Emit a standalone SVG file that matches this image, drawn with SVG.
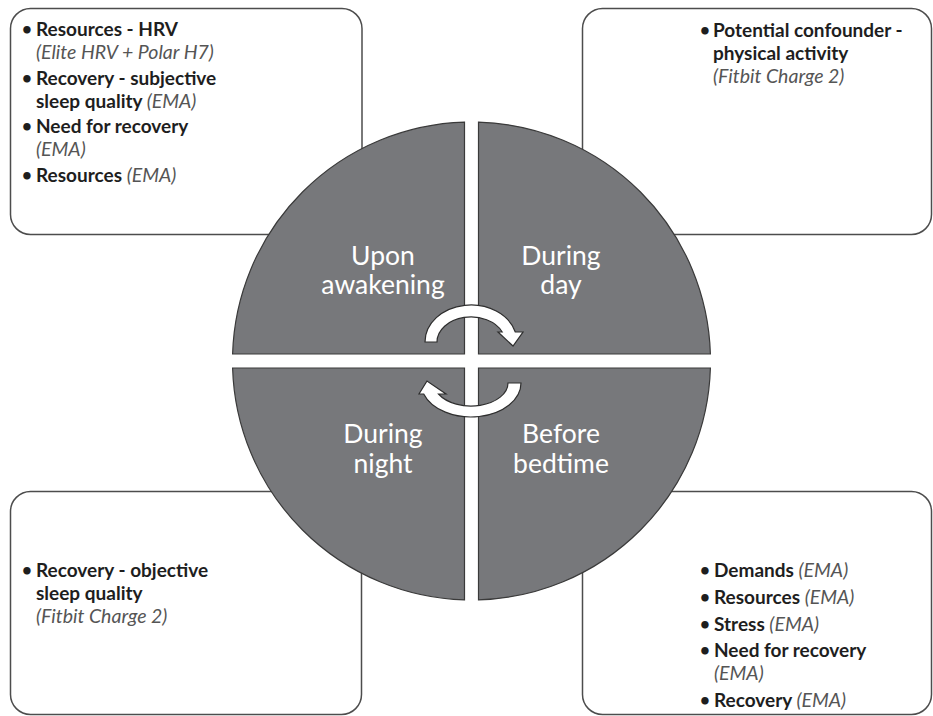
<svg xmlns="http://www.w3.org/2000/svg" width="933" height="716" viewBox="0 0 933 716">
<style>
.box{fill:#fff;stroke:#4d4d4d;stroke-width:1.5}
.q{fill:#77787b;stroke:#3a3a3a;stroke-width:1.2}
.arr{fill:#fff;stroke:#2e2e2e;stroke-width:1.2;stroke-linejoin:miter}
.t{font-family:Lato,"Liberation Sans",sans-serif;font-size:19px;font-weight:bold;fill:#1e1e1e}
.i{font-style:italic;font-weight:normal;fill:#555;font-size:19.5px}
.bu{font-size:17px}
.lbl{font-family:Lato,"Liberation Sans",sans-serif;font-size:26.5px;fill:#fff;text-anchor:middle}
</style>
<rect width="933" height="716" fill="#fff"/>
<g id="box-upon-awakening">
<rect class="box" x="10.5" y="8.5" width="351.5" height="226" rx="20"/>
<text class="t" y="36"><tspan class="bu" x="22" dy="-1">•</tspan><tspan x="36" dy="1">Resources - HRV</tspan></text>
<text class="t i" x="36" y="59">(Elite HRV + Polar H7)</text>
<text class="t" y="85"><tspan class="bu" x="22" dy="-1">•</tspan><tspan x="36" dy="1">Recovery - subjective</tspan></text>
<text class="t" x="36" y="108">sleep quality <tspan class="i">(EMA)</tspan></text>
<text class="t" y="133"><tspan class="bu" x="22" dy="-1">•</tspan><tspan x="36" dy="1">Need for recovery</tspan></text>
<text class="t i" x="36" y="156">(EMA)</text>
<text class="t" y="182"><tspan class="bu" x="22" dy="-1">•</tspan><tspan x="36" dy="1">Resources <tspan class="i">(EMA)</tspan></tspan></text>
</g>
<g id="box-during-day">
<rect class="box" x="582.5" y="8.5" width="349" height="226" rx="20"/>
<text class="t" y="37"><tspan class="bu" x="700" dy="-1">•</tspan><tspan x="713" dy="1">Potential confounder -</tspan></text>
<text class="t" x="713" y="60">physical activity</text>
<text class="t i" x="713" y="83">(Fitbit Charge 2)</text>
</g>
<g id="box-during-night">
<rect class="box" x="10.5" y="491.5" width="351" height="223" rx="20"/>
<text class="t" y="577"><tspan class="bu" x="22" dy="-1">•</tspan><tspan x="36" dy="1">Recovery - objective</tspan></text>
<text class="t" x="36" y="600">sleep quality</text>
<text class="t i" x="36" y="623">(Fitbit Charge 2)</text>
</g>
<g id="box-before-bedtime">
<rect class="box" x="582.5" y="491.5" width="349" height="223" rx="20"/>
<text class="t" y="577"><tspan class="bu" x="700" dy="-1">•</tspan><tspan x="714" dy="1">Demands <tspan class="i">(EMA)</tspan></tspan></text>
<text class="t" y="604"><tspan class="bu" x="700" dy="-1">•</tspan><tspan x="714" dy="1">Resources <tspan class="i">(EMA)</tspan></tspan></text>
<text class="t" y="631"><tspan class="bu" x="700" dy="-1">•</tspan><tspan x="714" dy="1">Stress <tspan class="i">(EMA)</tspan></tspan></text>
<text class="t" y="657"><tspan class="bu" x="700" dy="-1">•</tspan><tspan x="714" dy="1">Need for recovery</tspan></text>
<text class="t i" x="714" y="680">(EMA)</text>
<text class="t" y="707"><tspan class="bu" x="700" dy="-1">•</tspan><tspan x="714" dy="1">Recovery <tspan class="i">(EMA)</tspan></tspan></text>
</g>
<g id="q-upon-awakening">
<path class="q" d="M464.5 354 L232.6 354 A239 239 0 0 1 464.5 122.1 Z"/>
<text class="lbl" x="383" y="265">Upon</text>
<text class="lbl" x="383" y="294">awakening</text>
</g>
<g id="q-during-day">
<path class="q" d="M478.5 354 L478.5 122.1 A239 239 0 0 1 710.4 354 Z"/>
<text class="lbl" x="561" y="265">During</text>
<text class="lbl" x="561" y="294">day</text>
</g>
<g id="q-during-night">
<path class="q" d="M464.5 368 L464.5 599.9 A239 239 0 0 1 232.6 368 Z"/>
<text class="lbl" x="383" y="443">During</text>
<text class="lbl" x="383" y="473">night</text>
</g>
<g id="q-before-bedtime">
<path class="q" d="M478.5 368 L710.4 368 A239 239 0 0 1 478.5 599.9 Z"/>
<text class="lbl" x="561" y="443">Before</text>
<text class="lbl" x="561" y="473">bedtime</text>
</g>
<g id="connectors">
<path class="arr" d="M425 342 A46 37 0 0 1 515.3 332 L523 332 L513 346 L498 332 L502.2 332 A34 25 0 0 0 437 342 Z"/>
<path class="arr" d="M508 383 L521 383 A50 34 0 0 1 423.7 394 L419 394 L427 381 L446 394 L438.5 394 A37 23 0 0 0 508 383 Z"/>
</g>
</svg>
